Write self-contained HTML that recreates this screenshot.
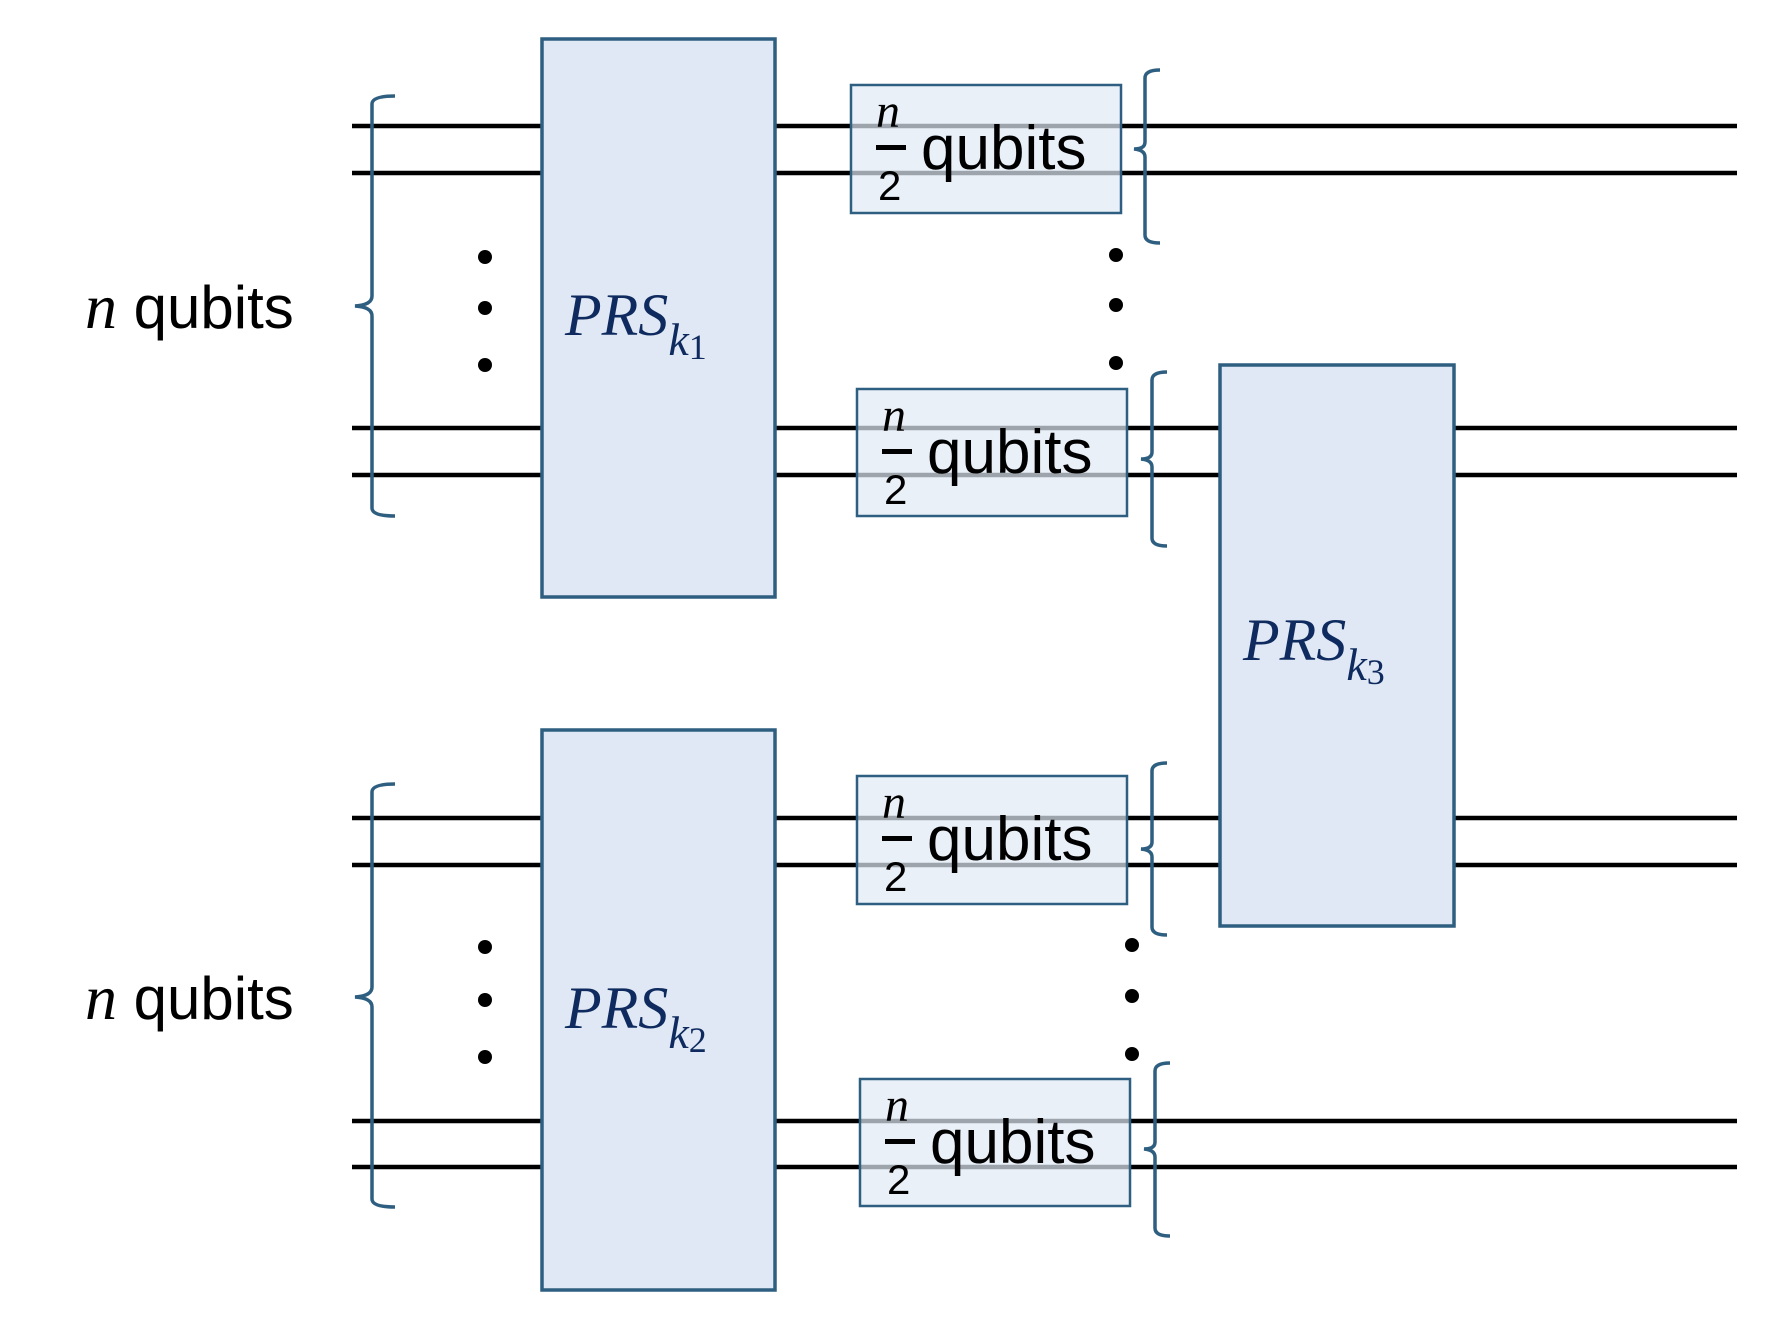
<!DOCTYPE html>
<html><head><meta charset="utf-8"><style>html,body{margin:0;padding:0;background:#fff;}svg{display:block}</style></head>
<body>
<svg width="1768" height="1330" viewBox="0 0 1768 1330" xmlns="http://www.w3.org/2000/svg">
<g stroke="#000" stroke-width="4.5">
<line x1="352" y1="126" x2="1737" y2="126"/>
<line x1="352" y1="173" x2="1737" y2="173"/>
<line x1="352" y1="428" x2="1737" y2="428"/>
<line x1="352" y1="475" x2="1737" y2="475"/>
<line x1="352" y1="818" x2="1737" y2="818"/>
<line x1="352" y1="865" x2="1737" y2="865"/>
<line x1="352" y1="1121" x2="1737" y2="1121"/>
<line x1="352" y1="1167" x2="1737" y2="1167"/>
</g>
<g fill="#dfe8f4" stroke="#2f5f80" stroke-width="3.5">
<rect x="542" y="39" width="233" height="558"/>
<rect x="542" y="730" width="233" height="560"/>
<rect x="1220" y="365" width="234" height="561"/>
</g>
<g fill="#e1e9f5" fill-opacity="0.7" stroke="#2f5f80" stroke-width="2.5">
<rect x="851" y="85" width="270" height="128"/>
<rect x="857" y="389" width="270" height="127"/>
<rect x="857" y="776" width="270" height="128"/>
<rect x="860" y="1079" width="270" height="127"/>
</g>
<g fill="none" stroke="#2f5f80" stroke-width="3.5">
<path d="M395 96 Q372 96 372 104 V296 Q372 305 355 306 Q372 307 372 316 V508 Q372 516 395 516"/>
<path d="M395 784 Q372 784 372 792 V987 Q372 996 355 997 Q372 998 372 1007 V1199 Q372 1207 395 1207"/>
<path d="M1160 70 Q1145 70 1145 78 V142 Q1145 149 1134 149 Q1145 150 1145 157 V235 Q1145 243 1160 243"/>
<path d="M1167 372 Q1152 372 1152 380 V452 Q1152 459 1141 459 Q1152 460 1152 467 V538 Q1152 546 1167 546"/>
<path d="M1167 763 Q1152 763 1152 771 V842 Q1152 849 1141 849 Q1152 850 1152 857 V927 Q1152 935 1167 935"/>
<path d="M1170 1063 Q1155 1063 1155 1071 V1142 Q1155 1149 1144 1149 Q1155 1150 1155 1157 V1228 Q1155 1236 1170 1236"/>
</g>
<g fill="#000">
<circle cx="485" cy="257" r="7"/><circle cx="485" cy="308" r="7"/><circle cx="485" cy="365" r="7"/>
<circle cx="485" cy="947" r="7"/><circle cx="485" cy="1000" r="7"/><circle cx="485" cy="1057" r="7"/>
<circle cx="1116" cy="255" r="7"/><circle cx="1116" cy="305" r="7"/><circle cx="1116" cy="363" r="7"/>
<circle cx="1132" cy="945" r="7"/><circle cx="1132" cy="996" r="7"/><circle cx="1132" cy="1054" r="7"/>
</g>
<g font-family="Liberation Sans, sans-serif" font-size="60" fill="#000">
<text x="85" y="328"><tspan font-family="Liberation Serif, serif" font-style="italic" font-size="64">n</tspan> qubits</text>
<text x="85" y="1019"><tspan font-family="Liberation Serif, serif" font-style="italic" font-size="64">n</tspan> qubits</text>
</g>
<g font-family="Liberation Serif, serif" font-style="italic" fill="#0e2a5e">
<text x="565" y="335" font-size="60">PRS<tspan font-size="46" dy="20">k</tspan><tspan font-size="36" font-style="normal" dy="4">1</tspan></text>
<text x="565" y="1028" font-size="60">PRS<tspan font-size="46" dy="20">k</tspan><tspan font-size="36" font-style="normal" dy="4">2</tspan></text>
<text x="1243" y="660" font-size="60">PRS<tspan font-size="46" dy="20">k</tspan><tspan font-size="36" font-style="normal" dy="4">3</tspan></text>
</g>
<g fill="#000">
<g transform="translate(876,85)">
<text x="0" y="42" font-family="Liberation Serif, serif" font-style="italic" font-size="48">n</text>
<rect x="0" y="60" width="30" height="5"/>
<text x="2" y="115" font-family="Liberation Sans, sans-serif" font-size="42">2</text>
<text x="45" y="84" font-family="Liberation Sans, sans-serif" font-size="62">qubits</text>
</g>
<g transform="translate(882,389)">
<text x="0" y="42" font-family="Liberation Serif, serif" font-style="italic" font-size="48">n</text>
<rect x="0" y="60" width="30" height="5"/>
<text x="2" y="115" font-family="Liberation Sans, sans-serif" font-size="42">2</text>
<text x="45" y="84" font-family="Liberation Sans, sans-serif" font-size="62">qubits</text>
</g>
<g transform="translate(882,776)">
<text x="0" y="42" font-family="Liberation Serif, serif" font-style="italic" font-size="48">n</text>
<rect x="0" y="60" width="30" height="5"/>
<text x="2" y="115" font-family="Liberation Sans, sans-serif" font-size="42">2</text>
<text x="45" y="84" font-family="Liberation Sans, sans-serif" font-size="62">qubits</text>
</g>
<g transform="translate(885,1079)">
<text x="0" y="42" font-family="Liberation Serif, serif" font-style="italic" font-size="48">n</text>
<rect x="0" y="60" width="30" height="5"/>
<text x="2" y="115" font-family="Liberation Sans, sans-serif" font-size="42">2</text>
<text x="45" y="84" font-family="Liberation Sans, sans-serif" font-size="62">qubits</text>
</g>
</g>
</svg>
</body></html>
